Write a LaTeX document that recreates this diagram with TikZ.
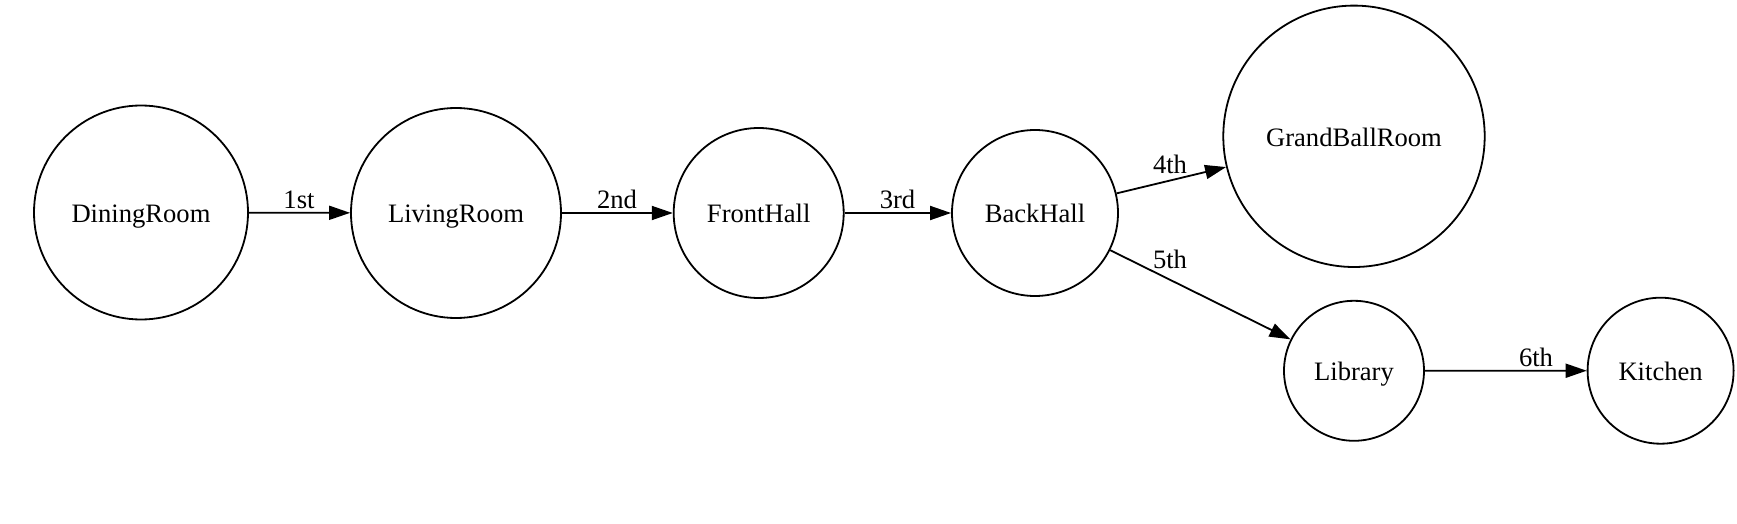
\documentclass[tikz,border=0pt]{standalone}
\usepackage{fontspec}
\setmainfont{Liberation Serif}
\usetikzlibrary{arrows.meta}
\begin{document}
\begin{tikzpicture}[x=0.5pt,y=-0.5pt,
  room/.style={circle,draw,line width=0.9pt,inner sep=0pt,text height=10pt,text depth=0pt,font=\fontsize{13.3}{16}\selectfont},
  edge/.style={draw,line width=0.9pt,-{Triangle[length=10.5pt,width=7pt]}},
  lbl/.style={anchor=base,inner sep=0pt,font=\fontsize{13.3}{16}\selectfont}]
\useasboundingbox (0,0) rectangle (1737,524);
\node[room,minimum size=107pt] (D) at (141,212.5) {DiningRoom};
\node[room,minimum size=105pt] (L) at (456,213) {LivingRoom};
\node[room,minimum size=85pt] (F) at (758.7,213) {FrontHall};
\node[room,minimum size=83pt] (B) at (1035,213) {BackHall};
\node[room,minimum size=130.7pt] (G) at (1354,136.3) {GrandBallRoom};
\node[room,minimum size=70pt] (Li) at (1354,370.8) {Library};
\node[room,minimum size=73pt] (K) at (1660.6,370.7) {Kitchen};
\draw[edge] (D) -- (L) node[lbl] (l1) at (299,208.3) {1st};
\draw[edge] (L) -- (F) node[lbl] (l2) at (617,208.3) {2nd};
\draw[edge] (F) -- (B) node[lbl] (l3) at (897.5,208.3) {3rd};
\draw[edge] (B) -- (G) node[lbl] (l4) at (1170,174) {4th};
\draw[edge] (B) -- (Li) node[lbl] (l5) at (1170,269) {5th};
\draw[edge] (Li) -- (K) node[lbl] (l6) at (1536,366) {6th};
\end{tikzpicture}
\end{document}
